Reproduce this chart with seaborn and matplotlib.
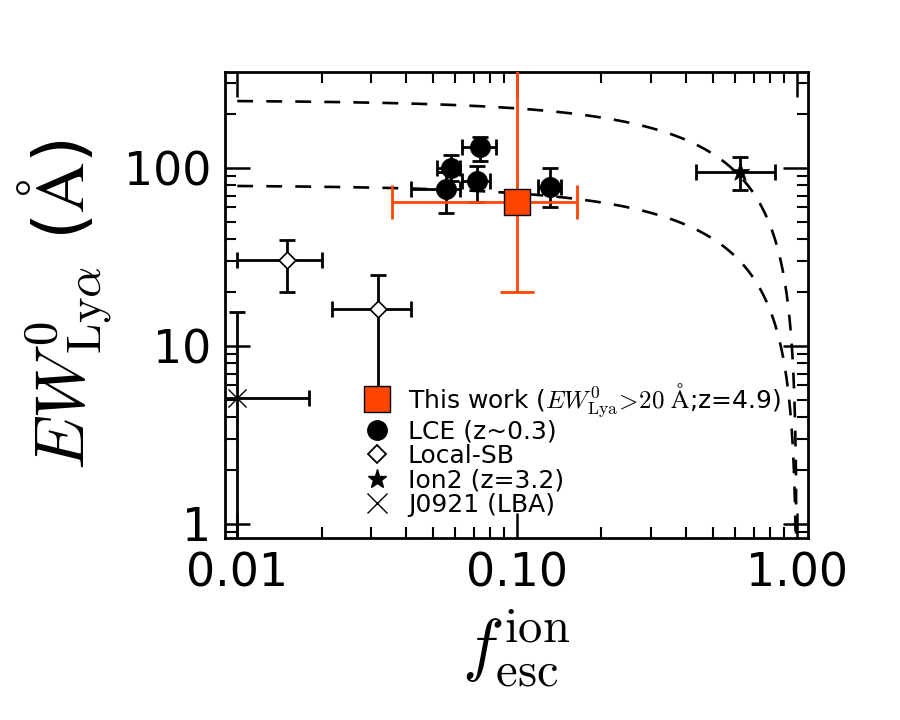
import numpy as np
import matplotlib
matplotlib.use("Agg")
import matplotlib.pyplot as plt
import seaborn as sns
from matplotlib.lines import Line2D
from matplotlib.ticker import LogLocator, FixedLocator, FixedFormatter, NullFormatter

# ---------------- data ----------------
# This work (z=4.9)
tw_x = [0.100]
tw_y = [64.0]
tw_xlo = [0.0357]
tw_xhi = [0.164]
tw_ylo = [20.0]
tw_yhi = [600.0]

# LCE (z~0.3)
lce_x = [0.0735, 0.0578, 0.0556, 0.0716, 0.131]
lce_y = [131.0, 100.0, 76.0, 85.0, 78.5]
lce_xlo = [0.0633, 0.0518, 0.0419, 0.0633, 0.119]
lce_xhi = [0.0842, 0.0627, 0.0623, 0.0797, 0.143]
lce_ylo = [110.0, 84.0, 55.5, 64.0, 60.0]
lce_yhi = [150.0, 118.0, 95.0, 102.0, 100.0]

# Local-SB
sb_x = [0.0151, 0.0319]
sb_y = [30.3, 16.2]
sb_xlo = [0.0100, 0.0218]
sb_xhi = [0.0200, 0.0419]
sb_ylo = [20.1, 5.9]
sb_yhi = [39.3, 25.0]

# Ion2 (z=3.2)
ion_x = [0.627]
ion_y = [95.0]
ion_xlo = [0.436]
ion_xhi = [0.835]
ion_ylo = [75.0]
ion_yhi = [115.0]

# J0921 (LBA)
j_x = [0.010]
j_y = [5.1]
j_xlo = [0.008]
j_xhi = [0.018]
j_ylo = [0.5]
j_yhi = [15.5]

# model curves EW = EW_int * (1 - f_esc)
ew_intrinsic = [240.0, 80.0]

x_ticks = [0.01, 0.1, 1.0]
x_ticklabels = ["0.01", "0.10", "1.00"]
y_ticks = [1, 10, 100]
y_ticklabels = ["1", "10", "100"]

# ---------------- style ----------------
sns.set_style("ticks")
plt.rcParams["font.family"] = ["DejaVu Sans"]
plt.rcParams["mathtext.fontset"] = "cm"
plt.rcParams["text.color"] = "black"
plt.rcParams["axes.labelcolor"] = "black"
plt.rcParams["xtick.color"] = "black"
plt.rcParams["ytick.color"] = "black"

ORANGE = "#FF4500"

fig = plt.figure(figsize=(9, 7.2), dpi=100)
ax = fig.add_axes([0.25, 0.2528, 0.6478, 0.6472])
ax.set_xscale("log")
ax.set_yscale("log")
ax.set_xlim(0.00904, 1.095)
ax.set_ylim(0.834, 346)

# model curves
fgrid = np.logspace(-2, np.log10(0.99995), 600)
for ew0 in ew_intrinsic:
    sns.lineplot(x=fgrid, y=ew0 * (1 - fgrid), ax=ax, color="black", lw=1.9,
                 linestyle=(0, (6, 5)), sort=False, zorder=2)


def err(ax, x, y, xlo, xhi, ylo, yhi, color, capsize, lw, z):
    x = np.array(x); y = np.array(y)
    xe = [x - np.array(xlo), np.array(xhi) - x]
    ye = [y - np.array(ylo), np.array(yhi) - y]
    ax.errorbar(x, y, xerr=xe, yerr=ye, fmt="none", ecolor=color,
                elinewidth=lw, capsize=capsize, capthick=lw, zorder=z)


err(ax, lce_x, lce_y, lce_xlo, lce_xhi, lce_ylo, lce_yhi, "black", 6, 2.0, 3)
err(ax, sb_x, sb_y, sb_xlo, sb_xhi, sb_ylo, sb_yhi, "black", 6, 2.0, 3)
err(ax, ion_x, ion_y, ion_xlo, ion_xhi, ion_ylo, ion_yhi, "black", 6, 2.0, 3)
err(ax, j_x, j_y, j_xlo, j_xhi, j_ylo, j_yhi, "black", 6, 2.0, 3)
err(ax, tw_x, tw_y, tw_xlo, tw_xhi, tw_ylo, tw_yhi, ORANGE, 12.5, 2.0, 4)

sns.scatterplot(x=lce_x, y=lce_y, ax=ax, marker="o", s=14.5**2, color="black",
                edgecolor="black", linewidth=0.5, zorder=5)
sns.scatterplot(x=sb_x, y=sb_y, ax=ax, marker="D", s=8.5**2, color="white",
                edgecolor="black", linewidth=1.2, zorder=5)
sns.scatterplot(x=ion_x, y=ion_y, ax=ax, marker="*", s=14**2, color="black",
                edgecolor="black", linewidth=0.5, zorder=5)
sns.scatterplot(x=j_x, y=j_y, ax=ax, marker="x", s=13**2, color="black",
                linewidth=1.0, zorder=5)
sns.scatterplot(x=tw_x, y=tw_y, ax=ax, marker="s", s=18.5**2, color=ORANGE,
                edgecolor="black", linewidth=1.0, zorder=6)

# ticks
ax.xaxis.set_major_locator(FixedLocator(x_ticks))
ax.xaxis.set_major_formatter(FixedFormatter(x_ticklabels))
ax.yaxis.set_major_locator(FixedLocator(y_ticks))
ax.yaxis.set_major_formatter(FixedFormatter(y_ticklabels))
ax.xaxis.set_minor_locator(LogLocator(base=10, subs=np.arange(2, 10)))
ax.yaxis.set_minor_locator(LogLocator(base=10, subs=np.arange(2, 10)))
ax.xaxis.set_minor_formatter(NullFormatter())
ax.yaxis.set_minor_formatter(NullFormatter())
ax.tick_params(which="major", direction="in", length=18, width=1.8,
               top=True, right=True, labelsize=33, pad=10, color="black",
               labelcolor="black")
ax.tick_params(which="minor", direction="in", length=8, width=1.5,
               top=True, right=True, color="black")
for sp in ax.spines.values():
    sp.set_linewidth(2.0)
    sp.set_color("black")

ax.set_xlabel(r"$f_{\rm esc}^{\rm ion}$", fontsize=50, labelpad=8, color="black")
ax.set_ylabel(r"$EW^0_{\rm Ly\alpha}$ ($\rm\AA$)", fontsize=50, labelpad=6,
              color="black")

handles = [
    Line2D([], [], marker="s", ls="none", ms=18.5, mfc=ORANGE, mec="black", mew=1.0),
    Line2D([], [], marker="o", ls="none", ms=14, mfc="black", mec="black"),
    Line2D([], [], marker="D", ls="none", ms=9, mfc="white", mec="black", mew=1.3),
    Line2D([], [], marker="*", ls="none", ms=14, mfc="black", mec="black"),
    Line2D([], [], marker="x", ls="none", ms=14, mec="black", mew=1.0),
]
labels = [
    r"This work ($EW^{0}_{\rm Lya}\!>\!20\ {\rm \AA}$;z=4.9)",
    "LCE (z~0.3)",
    "Local-SB",
    "Ion2 (z=3.2)",
    "J0921 (LBA)",
]
leg = fig.legend(handles, labels, loc="upper left",
                 bbox_to_anchor=(363 / 900, 1 - 381 / 720),
                 frameon=False, fontsize=18, handlelength=1.1,
                 handletextpad=0.7, borderpad=0, borderaxespad=0,
                 labelspacing=0.02)
leg.set_zorder(10)
for t in leg.get_texts():
    t.set_color("black")

fig.savefig("out.png", dpi=100)
